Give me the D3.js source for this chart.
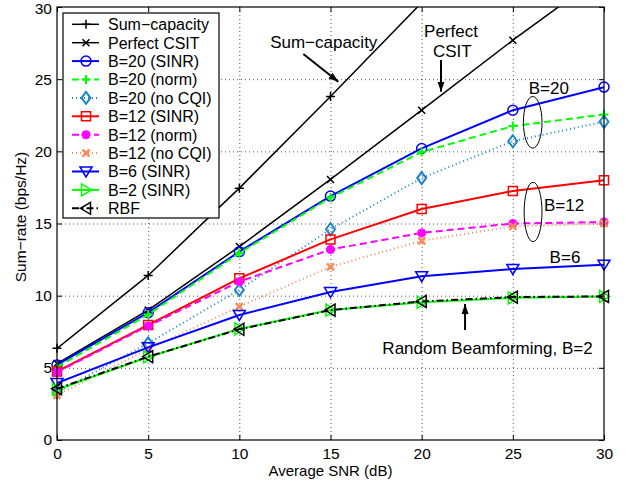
<!DOCTYPE html>
<html>
<head>
<meta charset="utf-8">
<script src="https://cdn.jsdelivr.net/npm/d3@7"></script>
<style>
  body { margin: 0; background: #fff; }
  text { font-family: "Liberation Sans", Arial, Helvetica, sans-serif; }
</style>
</head>
<body>
<script>
// x values (dB) and tick labels
const snr = [0, 5, 10, 15, 20, 25, 30];
const xTicks = [0, 5, 10, 15, 20, 25, 30];
const yTicks = [0, 5, 10, 15, 20, 25, 30];

// series values (bps/Hz)
const sumCapacity = [6.35, 11.4, 17.45, 23.8, 30.3, 36.6, 42.9];
const perfectCSIT = [5.3, 9.0, 13.4, 18.05, 22.85, 27.7, 32.3];
const b20Sinr  = [5.2, 8.82, 13.05, 16.9, 20.2, 22.85, 24.45];
const b20Norm  = [5.05, 8.7, 12.95, 16.8, 19.95, 21.75, 22.55];
const b20NoCqi = [3.3, 6.7, 10.4, 14.6, 18.15, 20.7, 22.05];
const b12Sinr  = [4.75, 7.97, 11.2, 13.9, 16.0, 17.25, 18.0];
const b12Norm  = [4.7, 7.9, 10.97, 13.2, 14.35, 15.0, 15.1];
const b12NoCqi = [3.1, 6.3, 9.24, 12.0, 13.8, 14.8, 15.0];
const b6Sinr   = [3.95, 6.42, 8.66, 10.25, 11.35, 11.85, 12.15];
const b2Sinr   = [3.5, 5.75, 7.7, 9.0, 9.55, 9.85, 9.95];
const rbf      = [3.55, 5.77, 7.67, 9.0, 9.6, 9.9, 9.95];

const seriesNames = ["Sum\u2212capacity", "Perfect CSIT", "B=20 (SINR)", "B=20 (norm)", "B=20 (no CQI)",
                     "B=12 (SINR)", "B=12 (norm)", "B=12 (no CQI)", "B=6 (SINR)", "B=2 (SINR)", "RBF"];
const seriesValues = [sumCapacity, perfectCSIT, b20Sinr, b20Norm, b20NoCqi,
                      b12Sinr, b12Norm, b12NoCqi, b6Sinr, b2Sinr, rbf];

// styles, same order as names
const styles = [
    {color: "#000",    width: 1.5, dash: null,      marker: "plus",   mw: 1.5},
    {color: "#000",    width: 1.5, dash: null,      marker: "cross",  mw: 1.5},
    {color: "#0000ff", width: 2,   dash: null,      marker: "circle", mw: 1.5},
    {color: "#00ff00", width: 2,   dash: "7,4",     marker: "plus",   mw: 2},
    {color: "#1a85c8", width: 2,   dash: "1,3",     marker: "diamond",mw: 2},
    {color: "#ff0000", width: 2,   dash: null,      marker: "square", mw: 1.5},
    {color: "#ff00ff", width: 2,   dash: "7,4",     marker: "star",   mw: 2.8},
    {color: "#f98b57", width: 2,   dash: "1,3",     marker: "xmark",  mw: 2.5},
    {color: "#0000ff", width: 2,   dash: null,      marker: "triDown",mw: 1.5},
    {color: "#00ff00", width: 2,   dash: null,      marker: "triRight",mw: 1.5},
    {color: "#000",    width: 2,   dash: "7,3,1.5,3", marker: "triLeft", mw: 1.5}
];

const markerPaths = {
    plus:     "M-4.5,0H4.5M0,-4.5V4.5",
    cross:    "M-3.5,-3.5L3.5,3.5M-3.5,3.5L3.5,-3.5",
    circle:   "M5,0A5,5 0 1,1 -5,0A5,5 0 1,1 5,0Z",
    diamond:  "M0,-6L4.5,0L0,6L-4.5,0Z",
    square:   "M-4.5,-4.5H4.5V4.5H-4.5Z",
    star:     "M-4.5,0H4.5M0,-4.5V4.5M-3.2,-3.2L3.2,3.2M-3.2,3.2L3.2,-3.2",
    xmark:    "M-3.5,-3.5L3.5,3.5M-3.5,3.5L3.5,-3.5",
    triDown:  "M-6,-4.5H6L0,5.5Z",
    triRight: "M-4.5,-6L5.5,0L-4.5,6Z",
    triLeft:  "M4.5,-6L-5.5,0L4.5,6Z"
};

const width = 629, height = 483;
const x = d3.scaleLinear().domain([0, 30]).range([57, 604]);
const y = d3.scaleLinear().domain([0, 30]).range([440, 7]);

const svg = d3.select("body").append("svg")
    .attr("width", width)
    .attr("height", height);

svg.append("defs").append("clipPath").attr("id", "plot")
    .append("rect")
    .attr("x", x(0)).attr("y", y(30))
    .attr("width", x(30) - x(0)).attr("height", y(0) - y(30));

const arrowHead = svg.select("defs").append("marker")
    .attr("id", "arrow")
    .attr("viewBox", "0 -5 10 10")
    .attr("refX", 10).attr("refY", 0)
    .attr("markerWidth", 10).attr("markerHeight", 10)
    .attr("markerUnits", "userSpaceOnUse")
    .attr("orient", "auto");
arrowHead.append("path").attr("d", "M0,-3.5L10,0L0,3.5Z").attr("fill", "#000");

// grid
const grid = svg.append("g")
    .attr("stroke", "#555")
    .attr("stroke-width", 1)
    .attr("stroke-dasharray", "1,3");
grid.selectAll(".gx").data(xTicks.slice(1, -1)).enter().append("line")
    .attr("x1", d => x(d) + 0.5).attr("x2", d => x(d) + 0.5)
    .attr("y1", y(0)).attr("y2", y(30));
grid.selectAll(".gy").data(yTicks.slice(1, -1)).enter().append("line")
    .attr("y1", d => y(d) + 0.5).attr("y2", d => y(d) + 0.5)
    .attr("x1", x(0)).attr("x2", x(30));

// axes
const axisStyle = function(g) {
    g.select(".domain").remove();
    g.selectAll(".tick line").attr("stroke", "#000");
    g.selectAll("text").attr("font-size", 15.5).attr("fill", "#000");
};
svg.append("g").attr("transform", "translate(0," + y(0) + ")")
    .call(d3.axisBottom(x).tickValues(xTicks).tickSize(-5).tickPadding(8))
    .call(axisStyle);
svg.append("g").attr("transform", "translate(0," + y(30) + ")")
    .call(d3.axisTop(x).tickValues(xTicks).tickSize(-5).tickFormat(""))
    .call(axisStyle);
const leftAxis = svg.append("g").attr("transform", "translate(" + x(0) + ",0)")
    .call(d3.axisLeft(y).tickValues(yTicks).tickSize(-5).tickPadding(5))
    .call(axisStyle);
// keep the top label inside the picture
leftAxis.selectAll(".tick text").filter(d => d === 30).attr("dy", "0.45em");
svg.append("g").attr("transform", "translate(" + x(30) + ",0)")
    .call(d3.axisRight(y).tickValues(yTicks).tickSize(-5).tickFormat(""))
    .call(axisStyle);

// lines
const line = d3.line()
    .x((d, i) => x(snr[i]))
    .y(d => y(d));

const plot = svg.append("g");
seriesValues.forEach(function(vals, k) {
    const s = styles[k];
    plot.append("path")
        .attr("clip-path", "url(#plot)")
        .attr("d", line(vals))
        .attr("fill", "none")
        .attr("stroke", s.color)
        .attr("stroke-width", s.width)
        .attr("stroke-dasharray", s.dash);
    plot.append("g").selectAll("path")
        .data(vals.map((v, i) => [snr[i], v]).filter(p => p[1] <= 30))
        .enter().append("path")
        .attr("transform", p => "translate(" + x(p[0]) + "," + y(p[1]) + ")")
        .attr("d", markerPaths[s.marker])
        .attr("fill", "none")
        .attr("stroke", s.color)
        .attr("stroke-width", s.mw);
});

// axes box
svg.append("rect")
    .attr("x", x(0)).attr("y", y(30))
    .attr("width", x(30) - x(0)).attr("height", y(0) - y(30))
    .attr("fill", "none").attr("stroke", "#000").attr("stroke-width", 1.2);

// axis labels
svg.append("text")
    .attr("x", x(15)).attr("y", 476)
    .attr("text-anchor", "middle")
    .attr("font-size", 15)
    .text("Average SNR (dB)");
svg.append("text")
    .attr("transform", "translate(26,217) rotate(-90)")
    .attr("text-anchor", "middle")
    .attr("font-size", 15.5)
    .text("Sum\u2212rate (bps/Hz)");

// annotations (data coordinates)
const notes = [
    {text: "Sum\u2212capacity", at: [14.63, 27.14]},
    {text: "Perfect", at: [21.61, 27.94]},
    {text: "CSIT", at: [21.68, 26.56]},
    {text: "B=20", at: [26.97, 23.95]},
    {text: "B=12", at: [27.81, 15.87]},
    {text: "B=6", at: [27.86, 12.24]},
    {text: "Random Beamforming, B=2", at: [23.61, 5.96]}
];
const arrows = [
    {from: [13.51, 26.74], to: [15.43, 24.82]},
    {from: [21.06, 26.33], to: [21.06, 24.13]},
    {from: [22.38, 7.62], to: [22.38, 9.42]}
];
const ellipses = [
    {c: [26.09, 22.01], r: [0.51, 1.79]},
    {c: [26.11, 15.80], r: [0.49, 2.06]}
];

const ann = svg.append("g");
ann.selectAll("text").data(notes).enter().append("text")
    .attr("x", d => x(d.at[0])).attr("y", d => y(d.at[1]))
    .attr("text-anchor", "middle")
    .attr("font-size", 17)
    .text(d => d.text);
ann.selectAll("line").data(arrows).enter().append("line")
    .attr("x1", d => x(d.from[0])).attr("y1", d => y(d.from[1]))
    .attr("x2", d => x(d.to[0])).attr("y2", d => y(d.to[1]))
    .attr("stroke", "#000").attr("stroke-width", 2)
    .attr("marker-end", "url(#arrow)");
ann.selectAll("ellipse").data(ellipses).enter().append("ellipse")
    .attr("cx", d => x(d.c[0])).attr("cy", d => y(d.c[1]))
    .attr("rx", d => x(d.r[0]) - x(0)).attr("ry", d => y(0) - y(d.r[1]))
    .attr("fill", "none").attr("stroke", "#000").attr("stroke-width", 1);

// legend
const legend = svg.append("g").attr("transform", "translate(63,13)");
legend.append("rect")
    .attr("width", 156).attr("height", 205)
    .attr("fill", "#fff").attr("stroke", "#000").attr("stroke-width", 1.2);
const rows = legend.selectAll(".row").data(seriesNames).enter().append("g")
    .attr("transform", (d, i) => "translate(0," + (11.3 + i * 18.4) + ")");
rows.append("line")
    .attr("x1", 9).attr("x2", 36)
    .attr("stroke", (d, i) => styles[i].color)
    .attr("stroke-width", (d, i) => styles[i].width)
    .attr("stroke-dasharray", (d, i) => styles[i].dash);
rows.append("path")
    .attr("transform", "translate(23,0)")
    .attr("d", (d, i) => markerPaths[styles[i].marker])
    .attr("fill", "none")
    .attr("stroke", (d, i) => styles[i].color)
    .attr("stroke-width", (d, i) => styles[i].mw);
rows.append("text")
    .attr("x", 45).attr("y", 5.8)
    .attr("font-size", 16)
    .text(d => d);
</script>
</body>
</html>
